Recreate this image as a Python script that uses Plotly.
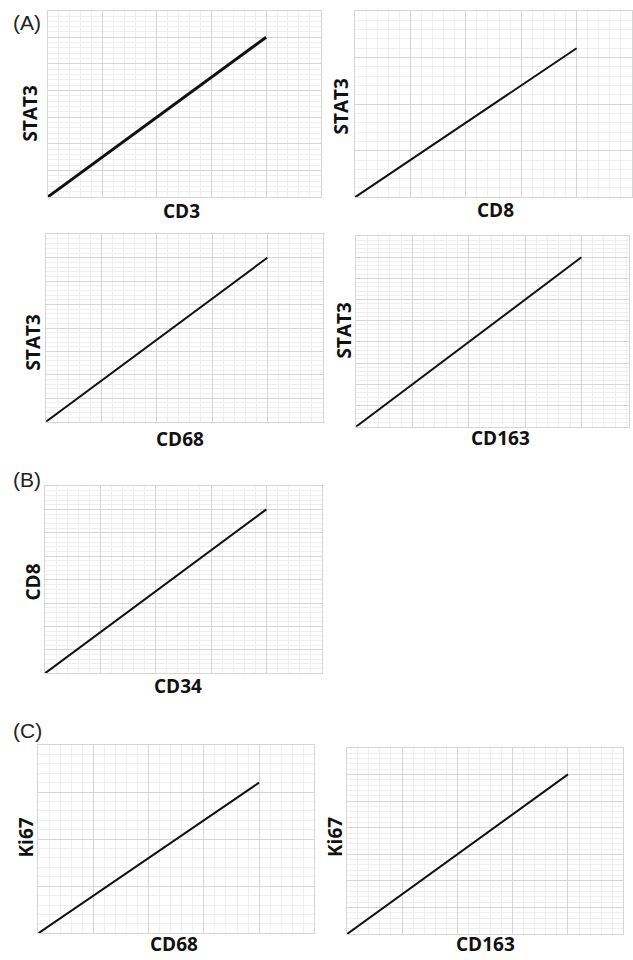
import plotly.graph_objects as go

W, H = 633, 960

# ---- data (abstract correlation lines) ----
x_titles = ["CD3", "CD8", "CD68", "CD163", "CD34", "CD68", "CD163"]
y_titles = ["STAT3", "STAT3", "STAT3", "STAT3", "CD8", "Ki67", "Ki67"]
x_start = [0, 0, 0, 0, 0, 0, 0]
y_start = [0, 0, 0, 0, 0, 0, 0]
x_end = [4, 4, 4, 4, 4, 4, 4]
y_end = [6, 3.2, 7, 8, 7, 3.2, 6]
x_max = [5, 5, 5, 4.85, 5, 5, 5]
y_max = [7, 4, 8, 9, 8, 4, 7]
panel_labels = ["(A)", "(B)", "(C)"]

# ---- layout (pixel boxes of each plot area: x0, x1, y0(top), y1(bottom)) ----
boxes = [
    (47.7, 320.7, 10.7, 197.0),
    (355.0, 632.0, 11.0, 197.3),
    (46.0, 322.7, 234.3, 421.7),
    (356.0, 629.3, 236.0, 426.7),
    (45.0, 321.7, 486.0, 673.3),
    (38.3, 314.3, 745.0, 933.3),
    (346.7, 623.3, 747.7, 934.3),
]
# x-title anchor: (x center, y, yanchor)
xt_pos = [(181.5, 211, "middle"), (495, 210, "middle"), (180, 439, "middle"),
          (500, 438, "middle"), (178, 686, "middle"), (173.5, 959, "bottom"),
          (485, 959, "bottom")]
yt_pos = [(29.5, 113), (340.5, 106), (32.5, 342), (343.5, 330), (32.5, 582), (25, 837.5), (334.5, 837.5)]
lbl_pos = [(27, 22), (27, 479), (27, 730)]
line_w = [3, 2, 2, 2, 2, 2, 2]

def px(x):
    return x / W

def py(y):
    return 1 - y / H

fig = go.Figure()
annotations = []
title_font = dict(family="Open Sans", size=19, color="#111111")

for i in range(7):
    n = i + 1
    xa = "x" if n == 1 else f"x{n}"
    ya = "y" if n == 1 else f"y{n}"
    fig.add_trace(go.Scatter(
        x=[x_start[i], x_end[i]], y=[y_start[i], y_end[i]],
        mode="lines", line=dict(color="#111111", width=line_w[i]),
        xaxis=xa, yaxis=ya, showlegend=False, hoverinfo="skip",
    ))
    x0, x1, y0, y1 = boxes[i]
    common = dict(
        showticklabels=False, ticks="", zeroline=False,
        showgrid=True, gridcolor="#d6d6d6", gridwidth=1,
        showline=True, linecolor="#d6d6d6", linewidth=1, mirror=True,
        dtick=1, tick0=0,
        minor=dict(dtick=0.2, showgrid=True, gridcolor="#efefef", gridwidth=1, ticks=""),
    )
    fig.layout[f"xaxis{'' if n == 1 else n}"] = dict(
        domain=[px(x0), px(x1)], range=[0, x_max[i]],
        anchor=ya, **common)
    fig.layout[f"yaxis{'' if n == 1 else n}"] = dict(
        domain=[py(y1), py(y0)], range=[0, y_max[i]],
        anchor=xa, **common)
    annotations.append(dict(
        text=f"<b>{x_titles[i]}</b>", x=px(xt_pos[i][0]), y=py(xt_pos[i][1]),
        xref="paper", yref="paper", xanchor="center", yanchor=xt_pos[i][2],
        showarrow=False, font=title_font))
    annotations.append(dict(
        text=f"<b>{y_titles[i]}</b>", x=px(yt_pos[i][0]), y=py(yt_pos[i][1]),
        xref="paper", yref="paper", xanchor="center", yanchor="middle",
        textangle=-90, showarrow=False, font=title_font))

for lab, (lx, ly) in zip(panel_labels, lbl_pos):
    annotations.append(dict(
        text=lab, x=px(lx), y=py(ly), xref="paper", yref="paper",
        xanchor="center", yanchor="middle", showarrow=False,
        font=dict(family="Liberation Sans", size=21, color="#222222")))

fig.update_layout(
    width=W, height=H, margin=dict(l=0, r=0, t=0, b=0),
    paper_bgcolor="white", plot_bgcolor="white",
    annotations=annotations, showlegend=False,
)

fig.write_html(
    "out.html",
    config={"displayModeBar": False},
    post_script="document.body.style.margin='0px';document.body.style.overflow='hidden';",
)
